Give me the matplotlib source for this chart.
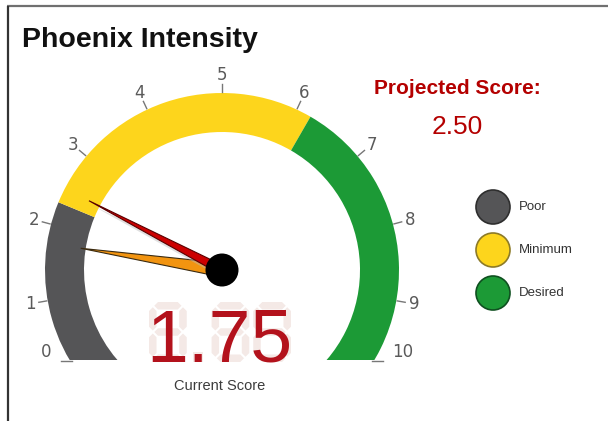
import numpy as np
import matplotlib
matplotlib.use("Agg")
import matplotlib.pyplot as plt
from matplotlib.patches import Wedge, Circle, Polygon, Rectangle

# ---- data ----
TITLE = "Phoenix Intensity"
TICK_VALUES = [0, 1, 2, 3, 4, 5, 6, 7, 8, 9, 10]
TICK_LABELS = ["0", "1", "2", "3", "4", "5", "6", "7", "8", "9", "10"]
BAND_EDGES = [0, 2.3, 6.2, 10]
BAND_NAMES = ["Poor", "Minimum", "Desired"]
BAND_COLORS = ["#555557", "#fdd51c", "#1c9a36"]
BAND_EDGECOLORS = ["#2e2e2e", "#8c7a28", "#0f5020"]
CURRENT_SCORE = 1.75
PROJECTED_SCORE = 2.50

# ---- layout ----
W, H = 608, 421
CX, CY = 222, H - 270
R_OUT, R_IN = 177, 138
CLIP_Y = CY - 90
VMIN, VMAX = 0, 10
A_START, A_END = 215.0, -35.0
FONT = ["Liberation Sans", "DejaVu Sans"]


def theta(v):
    return A_START + (A_END - A_START) * (v - VMIN) / (VMAX - VMIN)


fig = plt.figure(figsize=(W / 100, H / 100), dpi=100)
ax = fig.add_axes([0, 0, 1, 1])
ax.set_xlim(0, W)
ax.set_ylim(0, H)
ax.axis("off")

clip = Rectangle((0, CLIP_Y), W, H, transform=ax.transData, visible=False)
ax.add_patch(clip)

# bands
for i in range(len(BAND_NAMES)):
    t2 = theta(BAND_EDGES[i])
    t1 = theta(BAND_EDGES[i + 1])
    if i == 0:
        t2 = A_START + 20
    if i == len(BAND_NAMES) - 1:
        t1 = A_END - 20
    w = Wedge((CX, CY), R_OUT, t1, t2, width=R_OUT - R_IN,
              facecolor=BAND_COLORS[i], edgecolor="none", zorder=2)
    ax.add_patch(w)
    w.set_clip_path(clip)

# ticks and labels
for v, lab in zip(TICK_VALUES, TICK_LABELS):
    a = np.radians(theta(v))
    ca, sa = np.cos(a), np.sin(a)
    if CY + R_OUT * sa < CLIP_Y:
        s = np.sign(ca)
        xo = CX + s * np.sqrt(R_OUT ** 2 - (CY - CLIP_Y) ** 2)
        ax.plot([xo - s * 2, xo + s * 9], [CLIP_Y - 1, CLIP_Y - 1],
                color="#777777", lw=1, zorder=3)
        ax.text(xo + s * 18, CLIP_Y + 8, lab, ha="left" if s > 0 else "right",
                va="center", fontsize=12, color="#5a5a5a", family="DejaVu Sans")
    else:
        ax.plot([CX + (R_OUT + 1) * ca, CX + (R_OUT + 9) * ca],
                [CY + (R_OUT + 1) * sa, CY + (R_OUT + 9) * sa],
                color="#777777", lw=1, zorder=3)
        ax.text(CX + 195 * ca, CY + 195 * sa, lab, ha="center", va="center",
                fontsize=12, color="#5a5a5a", family="DejaVu Sans")


def needle(value, length, halfw, face, edge, z, shadow=False):
    a = np.radians(theta(value))
    d = np.array([np.cos(a), np.sin(a)])
    p = np.array([-d[1], d[0]])
    c = np.array([CX, CY])
    pts = [c + d * length, c + p * halfw, c - d * 4, c - p * halfw]
    if shadow:
        sh = [q + np.array([2, -4]) for q in pts]
        ax.add_patch(Polygon(sh, closed=True, facecolor="#bbbbbb", edgecolor="none",
                             alpha=0.45, zorder=z - 0.5))
    ax.add_patch(Polygon(pts, closed=True, facecolor=face, edgecolor=edge,
                         lw=0.8, zorder=z, joinstyle="miter"))


needle(CURRENT_SCORE, 143, 7, "#f29410", "#3a2a10", 5)
needle(PROJECTED_SCORE, 150, 4.5, "#cc0000", "#5a0000", 6, shadow=True)
ax.add_patch(Circle((CX, CY), 16.5, facecolor="black", edgecolor="none", zorder=7))

# digital readout: faint seven-segment background cells + real text value
GHOST = "#f4e9e6"


def hseg(x1, x2, y, t):
    return [(x1, y), (x1 + t / 2, y + t / 2), (x2 - t / 2, y + t / 2), (x2, y),
            (x2 - t / 2, y - t / 2), (x1 + t / 2, y - t / 2)]


def vseg(x, y1, y2, t):
    return [(x, y1), (x + t / 2, y1 + t / 2), (x + t / 2, y2 - t / 2), (x, y2),
            (x - t / 2, y2 - t / 2), (x - t / 2, y1 + t / 2)]


def ghost_digit(x0, x1, yb, yt, t=7.5, g=1.5):
    xl, xr = x0 + t / 2, x1 - t / 2
    ybc, ytc = yb + t / 2, yt - t / 2
    ym = (ybc + ytc) / 2
    segs = [hseg(xl + g, xr - g, ytc, t), hseg(xl + g, xr - g, ym, t),
            hseg(xl + g, xr - g, ybc, t),
            vseg(xl, ym + g, ytc - g, t), vseg(xr, ym + g, ytc - g, t),
            vseg(xl, ybc + g, ym - g, t), vseg(xr, ybc + g, ym - g, t)]
    for s in segs:
        ax.add_patch(Polygon(s, closed=True, facecolor=GHOST, edgecolor="none", zorder=4))


cur_txt = f"{CURRENT_SCORE:.2f}"
BIG = 54
em = BIG / 72 * 100
adv_d, adv_p = 0.556 * em, 0.278 * em
total = sum(adv_d if ch.isdigit() else adv_p for ch in cur_txt)
x = 219 - total / 2
yb, yt = H - 362, H - 302
for ch in cur_txt:
    adv = adv_d if ch.isdigit() else adv_p
    if ch.isdigit():
        ghost_digit(x + 3, x + adv - 1, yb, yt)
    else:
        ax.add_patch(Rectangle((x + adv / 2 - 5, yb), 10, 10, facecolor=GHOST,
                               edgecolor="none", zorder=4))
    x += adv

ax.text(219, H - 361, cur_txt, ha="center", va="baseline", fontsize=BIG,
        color="#b3121c", family=FONT, zorder=4.5)
ax.text(220, H - 386, "Current Score", ha="center", va="center", fontsize=10.5,
        color="#3c3c3c", family=FONT)

# projected
ax.text(457, H - 89, "Projected Score:", ha="center", va="center", fontsize=15,
        fontweight="bold", color="#b40000", family=FONT)
ax.text(457, H - 127, f"{PROJECTED_SCORE:.2f}", ha="center", va="center", fontsize=19,
        color="#b40000", family=FONT)

# legend
for i, name in enumerate(BAND_NAMES):
    y = H - (207 + 43 * i)
    ax.add_patch(Circle((493, y), 17, facecolor=BAND_COLORS[i],
                        edgecolor=BAND_EDGECOLORS[i], lw=1.2, zorder=3))
    ax.text(519, y, name, ha="left", va="center", fontsize=9.5,
            color="#333333", family=FONT)

# title
ax.text(22, H - 47, TITLE, ha="left", va="baseline", fontsize=20.5,
        fontweight="bold", color="#111111", family=FONT)

# frame
ax.plot([7, W], [H - 6, H - 6], color="#707070", lw=1.6, solid_capstyle="butt")
ax.plot([7.5, 7.5], [H - 6, 0], color="#333333", lw=1.6, solid_capstyle="butt")

fig.savefig("out.png", dpi=100)
